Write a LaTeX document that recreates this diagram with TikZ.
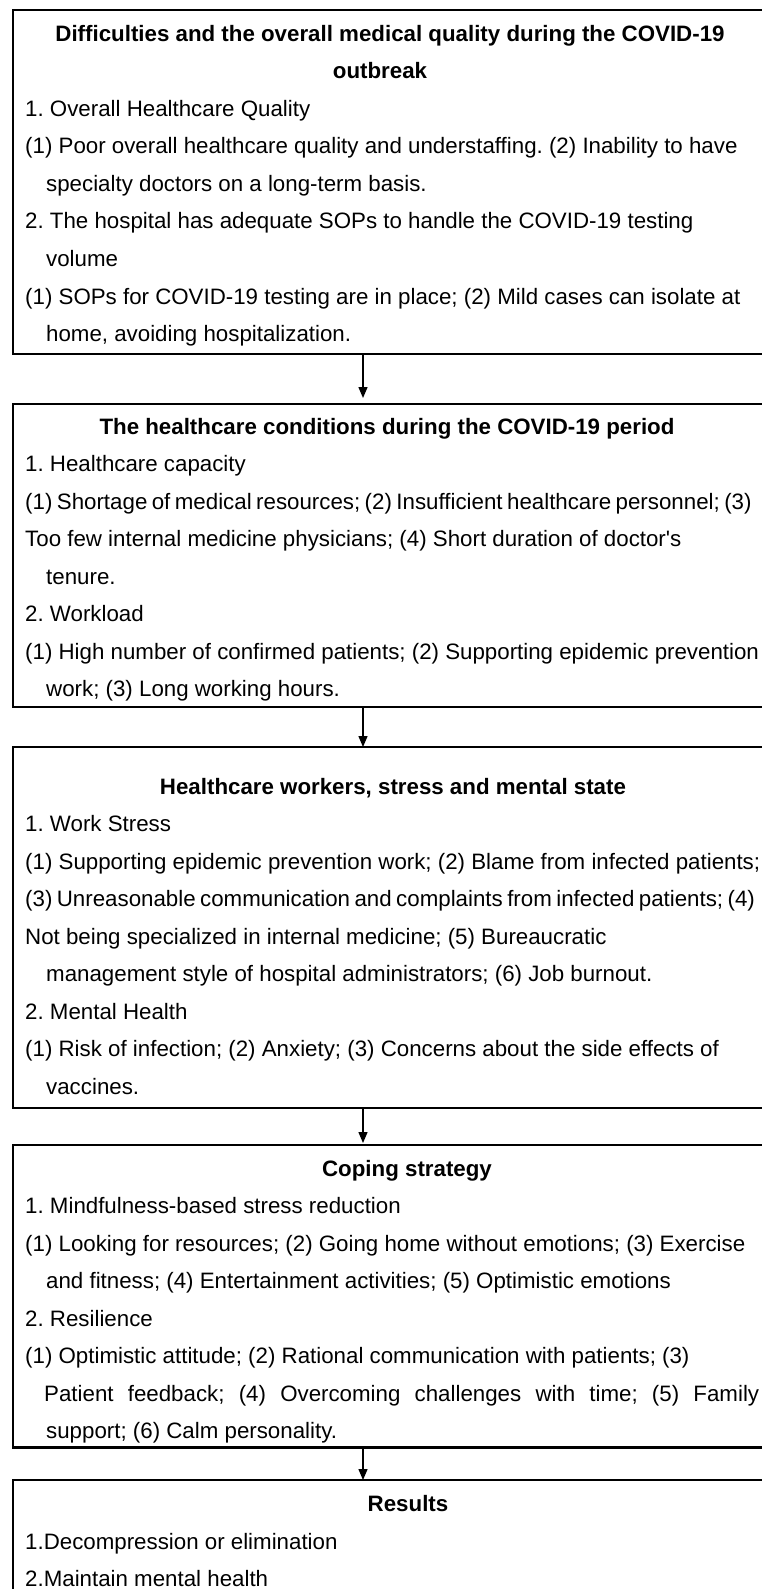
\documentclass[tikz,border=0pt]{standalone}
\usepackage{fontspec}
\setmainfont{Liberation Sans}
\usetikzlibrary{arrows.meta}
\frenchspacing
\newcommand{\tightsp}{\spaceskip=0.2em plus 0.1em\relax}
\begin{document}
\begin{tikzpicture}[x=1pt,y=-1pt,
  panel/.style={draw=black, line width=2.8pt, inner sep=0pt, outer sep=0pt, anchor=north west, minimum width=790pt},
  hd/.style={font=\fontsize{22.3}{26}\selectfont\bfseries\frenchspacing, anchor=base, inner sep=0pt},
  ln/.style={font=\fontsize{22.3}{26}\selectfont\frenchspacing, anchor=base west, inner sep=0pt},
  arr/.style={line width=1.4pt, -{Triangle[length=11pt,width=9pt]}}]
\useasboundingbox (0,0) rectangle (761,1589);
\fill[white] (0,0) rectangle (761,1589);
% boxes
\node[panel, minimum height=344pt] (box1) at (13,10) {};
\node[panel, minimum height=303pt] (box2) at (13,404) {};
\node[panel, minimum height=361pt] (box3) at (13,747) {};
\node[panel, minimum height=302.5pt] (box4) at (13,1145) {};
\node[panel, minimum height=200pt] (box5) at (13,1480) {};
\coordinate (ax) at (363,0);
\draw[arr, shorten >=6pt] (box1.south -| ax) -- (box2.north -| ax);
\draw[arr] (box2.south -| ax) -- (box3.north -| ax);
\draw[arr, shorten >=2pt] (box3.south -| ax) -- (box4.north -| ax);
\draw[arr] (box4.south -| ax) -- (box5.north -| ax);
% box 1
\node[hd] (h1a) at (390,41.5) {Difficulties and the overall medical quality during the COVID-19};
\node[hd] (h1b) at (380,79) {outbreak};
\node[ln] (a1) at (25,116.5) {1. Overall Healthcare Quality};
\node[ln] (a2) at (25,154) {(1) Poor overall healthcare quality and understaffing. (2) Inability to have};
\node[ln] (a3) at (46,191.5) {specialty doctors on a long-term basis.};
\node[ln] (a4) at (25,229) {2. The hospital has adequate SOPs to handle the COVID-19 testing};
\node[ln] (a5) at (46,266.5) {volume};
\node[ln] (a6) at (25,304) {(1) SOPs for COVID-19 testing are in place; (2) Mild cases can isolate at};
\node[ln] (a7) at (46,341.5) {home, avoiding hospitalization.};
% box 2
\node[hd] (h2) at (387,434) {The healthcare conditions during the COVID-19 period};
\node[ln] (b1) at (25,471.5) {1. Healthcare capacity};
\node[ln] (b2) at (25,509) {\tightsp(1) Shortage of medical resources; (2) Insufficient healthcare personnel; (3)};
\node[ln] (b3) at (25,546.5) {Too few internal medicine physicians; (4) Short duration of doctor\textquotesingle s};
\node[ln] (b4) at (46,584) {tenure.};
\node[ln] (b5) at (25,621.5) {2. Workload};
\node[ln] (b6) at (25,659) {(1) High number of confirmed patients; (2) Supporting epidemic prevention};
\node[ln] (b7) at (46,696.5) {work; (3) Long working hours.};
% box 3
\node[hd] (h3) at (393,794) {Healthcare workers, stress and mental state};
\node[ln] (c1) at (25,831.5) {1. Work Stress};
\node[ln] (c2) at (25,869) {(1) Supporting epidemic prevention work; (2) Blame from infected patients;};
\node[ln] (c3) at (25,906.5) {\tightsp(3) Unreasonable communication and complaints from infected patients; (4)};
\node[ln] (c4) at (25,944) {Not being specialized in internal medicine; (5) Bureaucratic};
\node[ln] (c5) at (46,981.5) {management style of hospital administrators; (6) Job burnout.};
\node[ln] (c6) at (25,1019) {2. Mental Health};
\node[ln] (c7) at (25,1056.5) {(1) Risk of infection; (2) Anxiety; (3) Concerns about the side effects of};
\node[ln] (c8) at (46,1094) {vaccines.};
% box 4
\node[hd] (h4) at (407,1176) {Coping strategy};
\node[ln] (d1) at (25,1213.5) {1. Mindfulness-based stress reduction};
\node[ln] (d2) at (25,1251) {(1) Looking for resources; (2) Going home without emotions; (3) Exercise};
\node[ln] (d3) at (46,1288.5) {and fitness; (4) Entertainment activities; (5) Optimistic emotions};
\node[ln] (d4) at (25,1326) {2. Resilience};
\node[ln] (d5) at (25,1363.5) {(1) Optimistic attitude; (2) Rational communication with patients; (3)};
\node[ln] (d6) at (44,1401) {\makebox[715pt][s]{Patient feedback; (4) Overcoming challenges with time; (5) Family}};
\node[ln] (d7) at (46,1438.5) {support; (6) Calm personality.};
% box 5
\node[hd] (h5) at (408,1511.5) {Results};
\node[ln] (e1) at (25,1549) {1.Decompression or elimination};
\node[ln] (e2) at (25,1586) {2.Maintain mental health};
\end{tikzpicture}
\end{document}
